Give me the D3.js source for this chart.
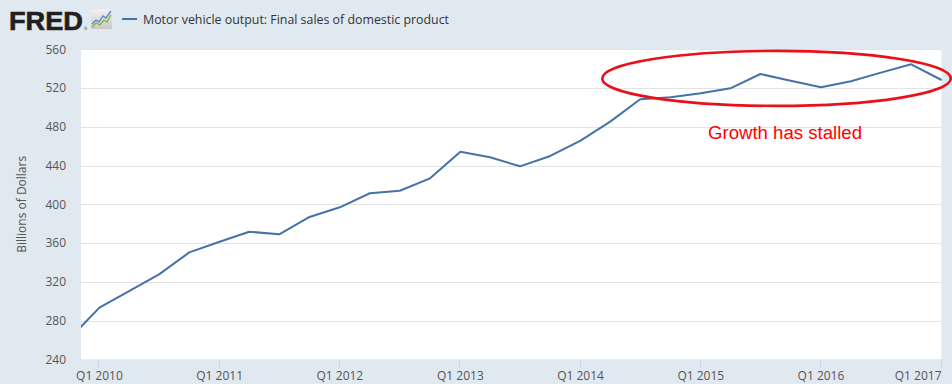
<!DOCTYPE html>
<html><head><meta charset="utf-8">
<script src="https://cdn.jsdelivr.net/npm/d3@7/dist/d3.min.js"></script>
<style>
html,body{margin:0;padding:0;background:#e1e9f0;}
svg{display:block;font-family:"Open Sans",sans-serif;}
</style></head><body>
<svg id="c" width="952" height="384"></svg>
<script>
const quarters = ["2009-10-01","2010-01-01","2010-04-01","2010-07-01","2010-10-01",
"2011-01-01","2011-04-01","2011-07-01","2011-10-01",
"2012-01-01","2012-04-01","2012-07-01","2012-10-01",
"2013-01-01","2013-04-01","2013-07-01","2013-10-01",
"2014-01-01","2014-04-01","2014-07-01","2014-10-01",
"2015-01-01","2015-04-01","2015-07-01","2015-10-01",
"2016-01-01","2016-04-01","2016-07-01","2016-10-01",
"2017-01-01"];
const values = [261, 293.3, 310.3, 327.7, 350.4,
361.4, 371.7, 369.0, 386.9,
396.9, 411.4, 414.0, 426.8,
454.3, 448.5, 439.2, 449.9,
465.7, 485.3, 508.4, 510.5,
514.6, 519.7, 534.5, 527.6,
520.8, 527.0, 535.9, 544.5,
528.3];
const yTicks = [240,280,320,360,400,440,480,520,560];
const xTickYears = [2010,2011,2012,2013,2014,2015,2016,2017];
const seriesName = "Motor vehicle output: Final sales of domestic product";
const yTitle = "Billions of Dollars";
const note = "Growth has stalled";

const svg = d3.select("#c");
const L=81, R=941.5, T=49.3, B=359.3;
const parse = d3.utcParse("%Y-%m-%d");
const data = quarters.map((q,i)=>({d:parse(q), v:values[i]}));
const x = d3.scaleUtc().domain([Date.UTC(2009,10,6), Date.UTC(2017,0,1)]).range([L,R]);
const y = d3.scaleLinear().domain([240,560]).range([B,T]);

svg.append("defs").append("clipPath").attr("id","pc").append("rect")
  .attr("x",L).attr("y",T-2).attr("width",R-L+1).attr("height",B-T+4);

svg.append("rect").attr("x",L).attr("y",T).attr("width",R-L).attr("height",B-T).attr("fill","#fff");

// grid
svg.append("g").selectAll("line").data(yTicks.slice(1)).join("line")
  .attr("x1",L).attr("x2",R).attr("y1",d=>Math.round(y(d))+0.5).attr("y2",d=>Math.round(y(d))+0.5)
  .attr("stroke","#e3e3e3").attr("stroke-width",1.2);

// y labels
svg.append("g").selectAll("text").data(yTicks).join("text")
  .attr("x",66).attr("y",d=>y(d)+4.3).attr("text-anchor","end")
  .attr("font-size",12).attr("fill","#555").text(d=>d);

svg.append("text").attr("transform",`translate(26,${(T+B)/2}) rotate(-90)`)
  .attr("text-anchor","middle").attr("font-size",12).attr("fill","#555").text(yTitle);

// x axis ticks
const xt = xTickYears.map(yr=>new Date(Date.UTC(yr,0,1)));
svg.append("g").selectAll("line").data(xt).join("line")
  .attr("x1",d=>Math.round(x(d))-0.5).attr("x2",d=>Math.round(x(d))-0.5).attr("y1",B).attr("y2",B+8)
  .attr("stroke","#ccd6eb").attr("stroke-width",1);
svg.append("g").selectAll("text").data(xt).join("text")
  .attr("x",(d,i)=>i===xt.length-1 ? x(d) : x(d)).attr("y",380)
  .attr("text-anchor",(d,i)=>i===xt.length-1 ? "end" : "middle")
  .attr("font-size",12).attr("fill","#555").text(d=>"Q1 "+d.getUTCFullYear());

// line
svg.append("path").datum(data).attr("clip-path","url(#pc)")
  .attr("d",d3.line().x(d=>x(d.d)).y(d=>y(d.v)))
  .attr("fill","none").attr("stroke","#4572a7").attr("stroke-width",2).attr("stroke-linejoin","round");

// header: FRED logo
svg.append("text").attr("x",9).attr("y",30).attr("font-family","'Liberation Sans',Arial,sans-serif")
  .attr("font-weight","bold").attr("font-size",26).attr("textLength",74).attr("lengthAdjust","spacingAndGlyphs")
  .attr("fill","#231f20").attr("stroke","#231f20").attr("stroke-width",0.6).text("FRED");
svg.append("text").attr("x",84).attr("y",30).attr("font-size",4).attr("fill","#231f20").text("®");
const ic = svg.append("g");
const grad = svg.select("defs").append("linearGradient").attr("id","ig").attr("x1",0).attr("y1",0).attr("x2",0).attr("y2",1);
grad.append("stop").attr("offset",0).attr("stop-color","#f2f2f2");
grad.append("stop").attr("offset",1).attr("stop-color","#c9c9c9");
ic.append("rect").attr("x",91).attr("y",9).attr("width",21).attr("height",20).attr("rx",1.5).attr("fill","url(#ig)");
ic.append("polyline").attr("points","92,24 96,20 99,22 103,16 106,18 111,11").attr("fill","none").attr("stroke","#5b86c5").attr("stroke-width",1.3);
ic.append("polyline").attr("points","92,27 96,23 100,25 104,20 107,22 111,15").attr("fill","none").attr("stroke","#7cb342").attr("stroke-width",1.3);

// legend
svg.append("line").attr("x1",122).attr("x2",137).attr("y1",19).attr("y2",19).attr("stroke","#4572a7").attr("stroke-width",2);
svg.append("text").attr("x",143).attr("y",23.5).attr("font-size",12.5).attr("fill","#333")
  .attr("textLength",306).attr("lengthAdjust","spacingAndGlyphs").text(seriesName);

// annotation
svg.append("ellipse").attr("cx",776.5).attr("cy",78.4).attr("rx",174.3).attr("ry",27.5)
  .attr("fill","none").attr("stroke","#e8111a").attr("stroke-width",2.6);
svg.append("text").attr("x",708).attr("y",139.3).attr("font-family","'Liberation Sans',Arial,sans-serif")
  .attr("font-size",18).attr("fill","#ff0000").attr("textLength",154).attr("lengthAdjust","spacingAndGlyphs").text(note);
</script></body></html>
